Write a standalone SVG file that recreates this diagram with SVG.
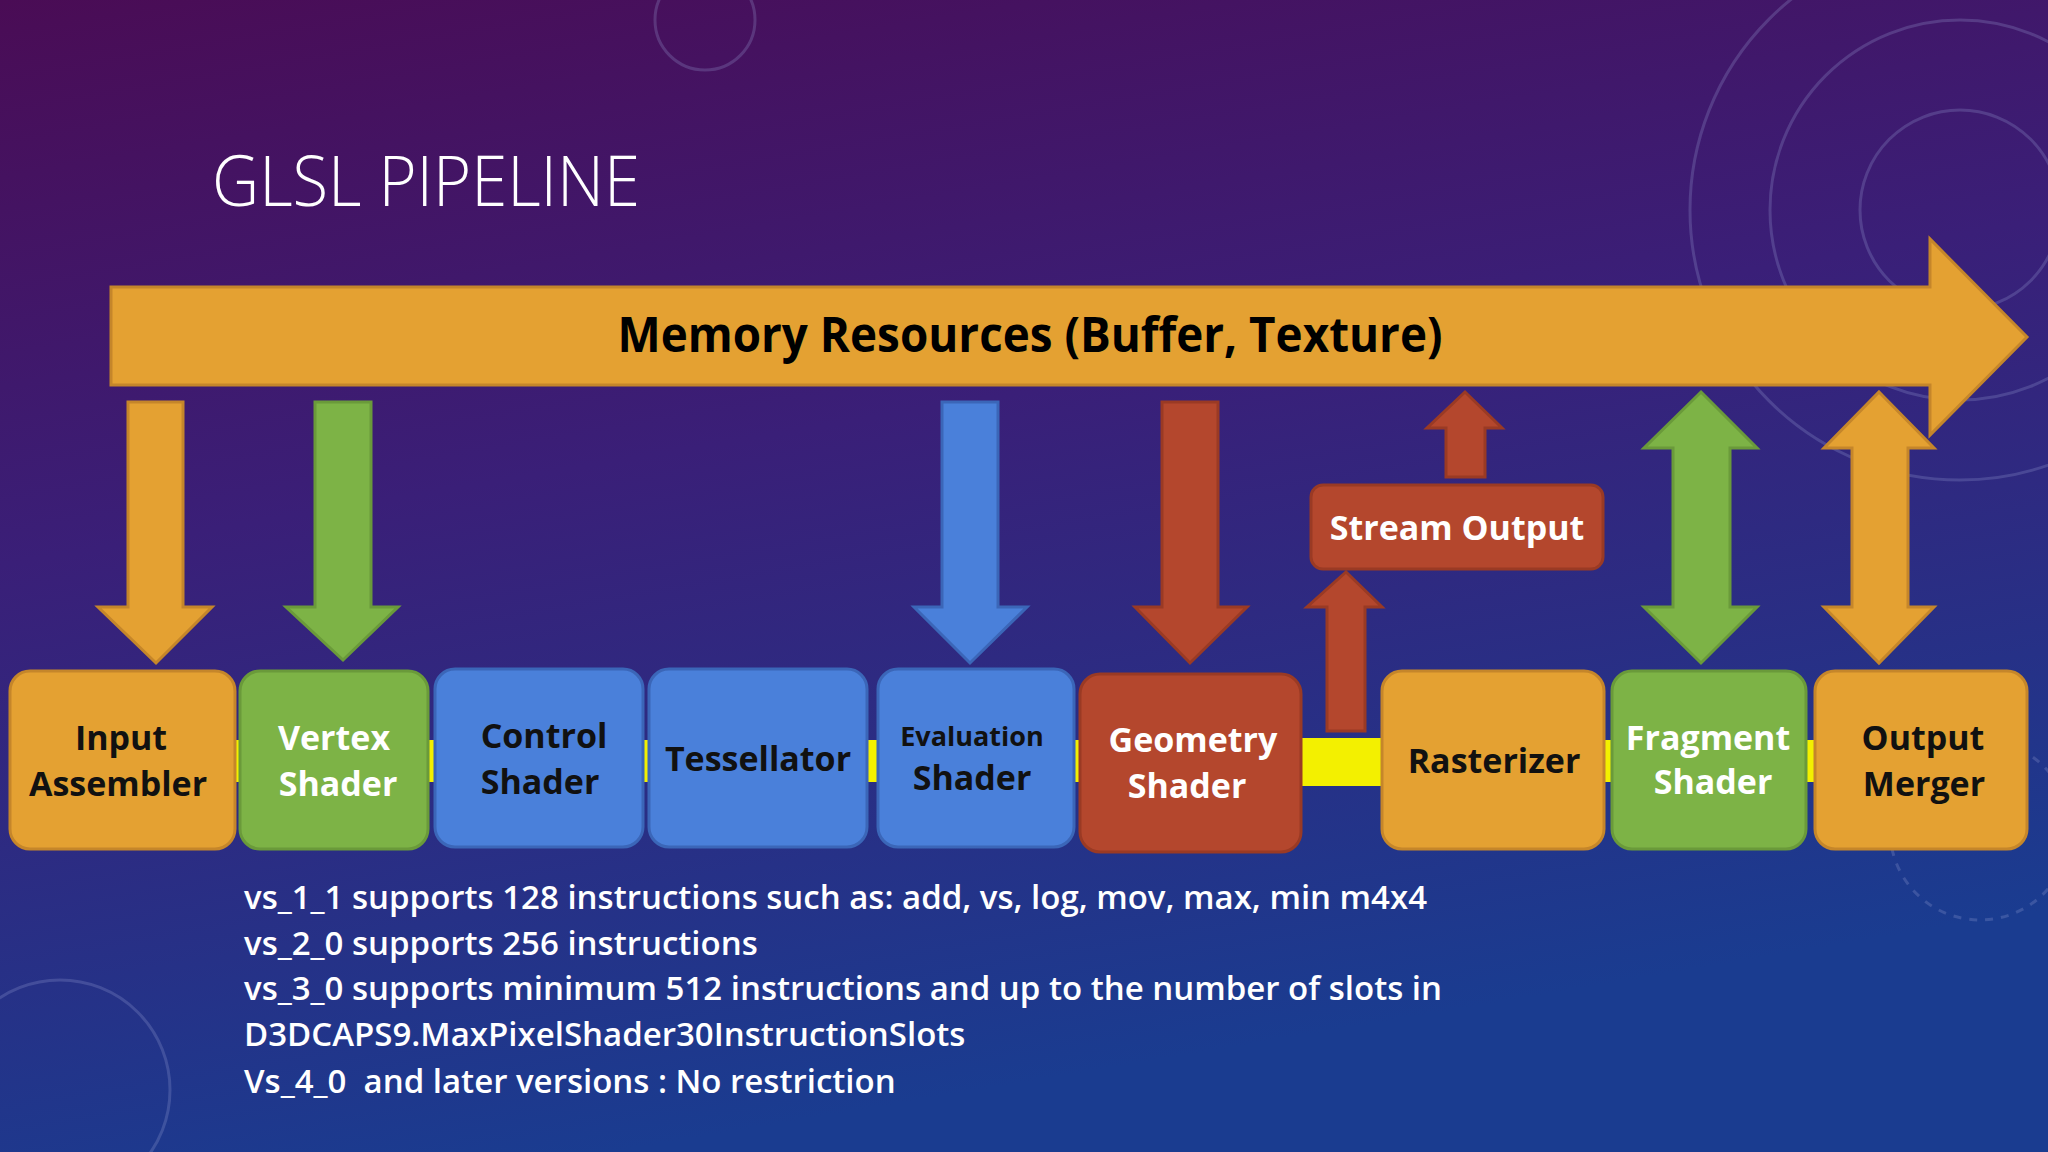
<svg xmlns="http://www.w3.org/2000/svg" width="2048" height="1152" viewBox="0 0 2048 1152">
<defs>
<linearGradient id="bg" x1="0" y1="0" x2="0.3" y2="1">
<stop offset="0" stop-color="#4a0c55"/>
<stop offset="0.45" stop-color="#3a1f78"/>
<stop offset="1" stop-color="#1a3c90"/>
</linearGradient>
<style>
.n text{font-family:"Open Sans","Liberation Sans",sans-serif;font-weight:700;font-size:34px;text-anchor:middle}
.dk{fill:#111}
.wt{fill:#fff}
.or{fill:#E4A132;stroke:#c5862a;stroke-width:3}
.gr{fill:#7DB346;stroke:#6a9a3a;stroke-width:3}
.bl{fill:#4A80DA;stroke:#3b66b8;stroke-width:3}
.rd{fill:#B4472D;stroke:#9a3a24;stroke-width:3}
.yl{fill:#F3F000}
.deco{fill:none;stroke:#9aa3d6;stroke-opacity:0.25;stroke-width:3}
.bt{font-family:"Open Sans","Liberation Sans",sans-serif;font-weight:600;font-size:33px;fill:#fff}
</style>
</defs>
<rect width="2048" height="1152" fill="url(#bg)"/>
<circle class="deco" cx="705" cy="20" r="50"/>
<circle class="deco" cx="1960" cy="210" r="100"/>
<circle class="deco" cx="1960" cy="210" r="190"/>
<circle class="deco" cx="1960" cy="210" r="270"/>
<circle class="deco" cx="60" cy="1090" r="110"/>
<circle class="deco" cx="1980" cy="830" r="90" stroke-dasharray="8 8"/>
<text x="212" y="206" font-family="Open Sans, Liberation Sans, sans-serif" font-weight="300" font-size="70" fill="#fff" textLength="428" lengthAdjust="spacingAndGlyphs">GLSL PIPELINE</text>
<g id="connectors">
<rect class="yl" x="1300" y="738" width="84" height="48"/>
<rect class="yl" x="233" y="740" width="9" height="42"/>
<rect class="yl" x="426" y="740" width="11" height="42"/>
<rect class="yl" x="641" y="740" width="10" height="42"/>
<rect class="yl" x="865" y="740" width="15" height="42"/>
<rect class="yl" x="1072" y="740" width="10" height="42"/>
<rect class="yl" x="1602" y="740" width="12" height="42"/>
<rect class="yl" x="1804" y="740" width="13" height="42"/>
<polygon class="or" points="128,402 183,402 183,607 212,607 156,663 98,607 128,607"/>
<polygon class="gr" points="315,402 371,402 371,607 398,607 343,660 286,607 315,607"/>
<polygon class="bl" points="942,402 998,402 998,607 1027,607 970,663 914,607 942,607"/>
<polygon class="rd" points="1162,402 1218,402 1218,607 1247,607 1190,663 1135,607 1162,607"/>
<polygon class="rd" points="1446,477 1485,477 1485,428 1502,428 1465,392 1427,428 1446,428"/>
<polygon class="rd" points="1327,731 1365,731 1365,607 1382,607 1346,572 1307,607 1327,607"/>
<polygon class="gr" points="1701,392 1757,448 1730,448 1730,607 1757,607 1701,663 1644,607 1673,607 1673,448 1644,448"/>
<polygon class="or" points="1879,392 1934,448 1908,448 1908,607 1934,607 1879,663 1824,607 1852,607 1852,448 1824,448"/>
</g>
<g id="memory">
<polygon class="or" points="111,287 1930,287 1930,239 2027,337 1930,435 1930,385 111,385"/>
<text x="1030" y="352" text-anchor="middle" font-family="Open Sans, Liberation Sans, sans-serif" font-weight="700" font-size="49" fill="#000" textLength="825" lengthAdjust="spacingAndGlyphs">Memory Resources (Buffer, Texture)</text>
</g>
<g id="stream" class="n"><rect class="rd" x="1311" y="485" width="292" height="84" rx="12"/><text class="wt" x="1457" y="540">Stream Output</text></g>
<g id="ia" class="n"><rect class="or" x="10" y="671" width="225" height="178" rx="20"/><text class="dk" x="121" y="750">Input</text><text class="dk" x="118" y="796">Assembler</text></g>
<g id="vs" class="n"><rect class="gr" x="240" y="671" width="188" height="178" rx="20"/><text class="wt" x="334" y="750">Vertex</text><text class="wt" x="338" y="796">Shader</text></g>
<g id="cs" class="n"><rect class="bl" x="435" y="669" width="208" height="178" rx="20"/><text class="dk" x="544" y="748">Control</text><text class="dk" x="540" y="794">Shader</text></g>
<g id="ts" class="n"><rect class="bl" x="649" y="669" width="218" height="178" rx="20"/><text class="dk" x="758" y="771">Tessellator</text></g>
<g id="es" class="n"><rect class="bl" x="878" y="669" width="196" height="178" rx="20"/><text class="dk" x="972" y="746" font-size="27" style="font-size:27px">Evaluation</text><text class="dk" x="972" y="790">Shader</text></g>
<g id="gs" class="n"><rect class="rd" x="1080" y="674" width="221" height="178" rx="20"/><text class="wt" x="1193" y="752">Geometry</text><text class="wt" x="1187" y="798">Shader</text></g>
<g id="rs" class="n"><rect class="or" x="1382" y="671" width="222" height="178" rx="20"/><text class="dk" x="1494" y="773">Rasterizer</text></g>
<g id="fs" class="n"><rect class="gr" x="1612" y="671" width="194" height="178" rx="20"/><text class="wt" x="1708" y="750">Fragment</text><text class="wt" x="1713" y="794">Shader</text></g>
<g id="om" class="n"><rect class="or" x="1815" y="671" width="212" height="178" rx="20"/><text class="dk" x="1923" y="750">Output</text><text class="dk" x="1924" y="796">Merger</text></g>
<g id="notes">
<text class="bt" x="244" y="909">vs_1_1 supports 128 instructions such as: add, vs, log, mov, max, min m4x4</text>
<text class="bt" x="244" y="955">vs_2_0 supports 256 instructions</text>
<text class="bt" x="244" y="1000">vs_3_0 supports minimum 512 instructions and up to the number of slots in</text>
<text class="bt" x="244" y="1046">D3DCAPS9.MaxPixelShader30InstructionSlots</text>
<text class="bt" x="244" y="1093" xml:space="preserve">Vs_4_0  and later versions : No restriction</text>
</g>
</svg>
